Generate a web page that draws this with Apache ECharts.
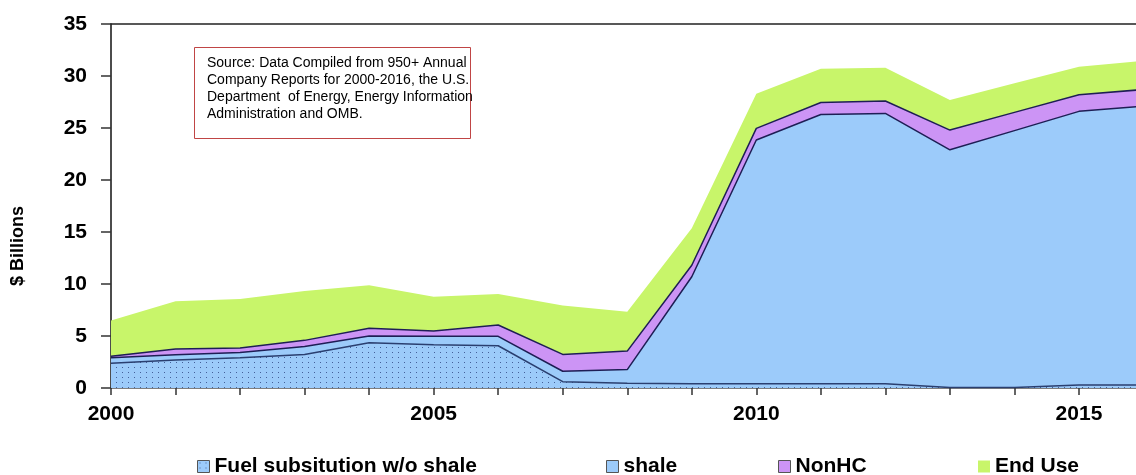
<!DOCTYPE html>
<html>
<head>
<meta charset="utf-8">
<style>
html,body{margin:0;padding:0;background:#fff;}
#chart{width:1136px;height:475px;}
</style>
<script src="https://cdn.jsdelivr.net/npm/echarts@6/dist/echarts.min.js"></script>
</head>
<body>
<div id="chart"></div>
<script>
const years = ['2000','2001','2002','2003','2004','2005','2006','2007','2008','2009','2010','2011','2012','2013','2014','2015','2016'];
const fuelNoShale = [2.39, 2.7, 2.9, 3.23, 4.35, 4.16, 4.06, 0.61, 0.45, 0.4, 0.4, 0.4, 0.4, 0.05, 0.05, 0.3, 0.3];
const shale = [0.51, 0.49, 0.52, 0.77, 0.65, 0.81, 0.91, 1.0, 1.32, 10.3, 23.45, 25.9, 26.0, 22.85, 24.7, 26.3, 26.8];
const nonHC = [0.16, 0.55, 0.42, 0.58, 0.74, 0.51, 1.09, 1.62, 1.78, 1.1, 1.11, 1.15, 1.2, 1.9, 1.75, 1.6, 1.6];
const endUse = [3.44, 4.61, 4.71, 4.74, 4.13, 3.29, 2.97, 4.71, 3.77, 3.55, 3.34, 3.25, 3.2, 2.9, 2.8, 2.7, 2.75];
const yTicks = [0, 5, 10, 15, 20, 25, 30, 35];
const xLabelYears = ['2000','2005','2010','2015'];
const seriesNames = ['Fuel subsitution w/o shale', 'shale', 'NonHC', 'End Use'];
const sourceText = 'Source: Data Compiled from 950+ Annual\nCompany Reports for 2000-2016, the U.S.\nDepartment  of Energy, Energy Information\nAdministration and OMB.';

const BLUE = '#9CCBFA';
const PURPLE = '#CC94F5';
const GREEN = '#C8F56A';
const LINE = '#1E1E55';

const pc = document.createElement('canvas');
pc.width = 6; pc.height = 5;
const pctx = pc.getContext('2d');
pctx.fillStyle = BLUE; pctx.fillRect(0,0,6,5);
pctx.fillStyle = 'rgba(40,60,120,0.75)'; pctx.fillRect(2,2,1,1);
const pattern = {image: pc, repeat: 'repeat'};

const chart = echarts.init(document.getElementById('chart'), null, {renderer:'canvas'});
const FONT = 'Liberation Sans, Arial, sans-serif';

function areaSeries(name, data, color, lineColor, lineWidth){
  return {
    name, type:'line', stack:'total', data, symbol:'none', smooth:false,
    lineStyle:{color: lineColor, width: lineWidth},
    areaStyle:{color: color, opacity:1},
    itemStyle:{color: color},
    emphasis:{disabled:true}, animation:false
  };
}

const legendLefts = [197, 606, 778, 978];
const legends = seriesNames.map((n, i) => ({
  left: legendLefts[i], top: 456, padding: 0, icon:'rect', itemWidth:12, itemHeight:12, itemGap:0,
  textStyle:{fontFamily:FONT, fontSize:21, fontWeight:'bold', color:'#000'},
  itemStyle: i === 3 ? {borderWidth:0} : {borderColor:'#555', borderWidth:1},
  selectedMode:false,
  data:[{name:n}]
}));

chart.setOption({
  animation:false,
  grid:{left:111, width:1032.5, top:24, height:364, containLabel:false, outerBoundsMode:'none'},
  xAxis:[{
    type:'category', data: years, boundaryGap:false,
    axisLine:{show:true, lineStyle:{color:'#555', width:1.5}},
    axisTick:{show:true, interval:0, length:7, lineStyle:{color:'#333', width:1.5}},
    axisLabel:{interval:0, margin:16, fontFamily:FONT, fontSize:21, fontWeight:'bold', color:'#000',
      formatter: v => xLabelYears.indexOf(v) >= 0 ? v : ''},
    splitLine:{show:false}
  },{
    type:'category', data: years, boundaryGap:false, position:'top',
    axisLine:{show:true, lineStyle:{color:'#222', width:1.5}},
    axisTick:{show:false}, axisLabel:{show:false}, splitLine:{show:false}
  }],
  yAxis:{
    type:'value', min:yTicks[0], max:yTicks[yTicks.length-1], interval:5,
    axisLine:{show:true, lineStyle:{color:'#111', width:1.5}},
    axisTick:{show:true, length:10, lineStyle:{color:'#333', width:1.5}},
    axisLabel:{margin:24, fontFamily:FONT, fontSize:21, fontWeight:'bold', color:'#000'},
    splitLine:{show:false}
  },
  legend: legends,
  graphic:[
    {type:'text', x:18, y:246, rotation:Math.PI/2, silent:true, z:10,
      style:{text:'$ Billions', fontFamily:FONT, fontSize:18, fontWeight:'bold', fill:'#000', align:'center', verticalAlign:'middle'}},
    {type:'rect', shape:{x:194.5, y:47.5, width:276, height:91}, style:{fill:'#fff', stroke:'#C04545', lineWidth:1}, z:10},
    {type:'text', x:207, y:55, z:11, style:{text:sourceText, fontFamily:FONT, fontSize:14, lineHeight:17, fill:'#000'}}
  ],
  series:[
    areaSeries(seriesNames[0], fuelNoShale, pattern, '#2A3F70', 1.5),
    areaSeries(seriesNames[1], shale, BLUE, LINE, 1.5),
    areaSeries(seriesNames[2], nonHC, PURPLE, LINE, 1.5),
    areaSeries(seriesNames[3], endUse, GREEN, GREEN, 0)
  ]
});
</script>
</body>
</html>
